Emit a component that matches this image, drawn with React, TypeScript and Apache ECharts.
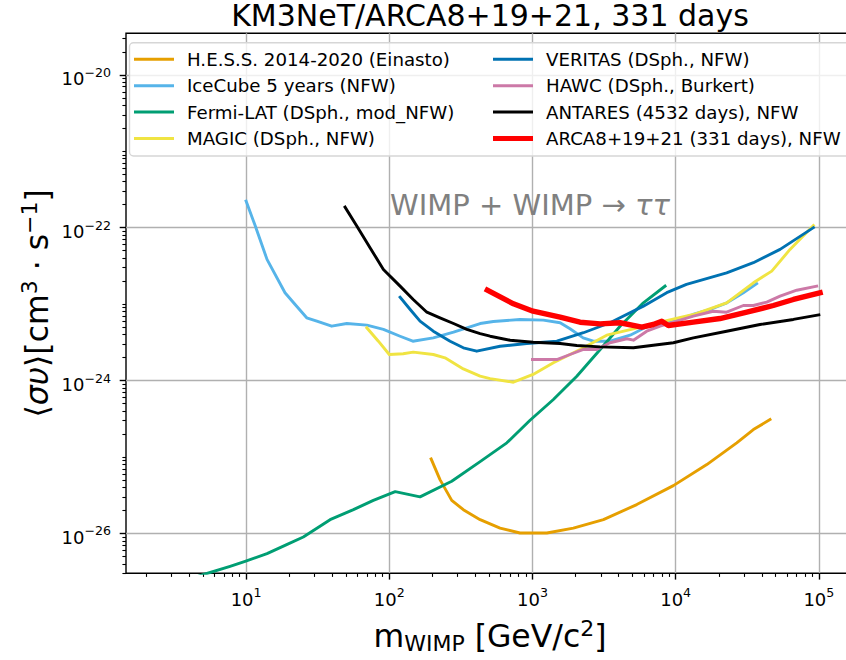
import React, { useEffect, useRef } from "react";
import * as echarts from "echarts";

const FONT = "'DejaVu Sans', 'Noto Sans', sans-serif";

const TITLE = "KM3NeT/ARCA8+19+21, 331 days";
const ANNOTATION = "WIMP + WIMP → ";
const ANNOTATION_ITALIC = "ττ";

// Axis limits: WIMP mass [GeV/c^2] and <sigma v> [cm^3 s^-1]
const X_MIN = 1.45;
const X_MAX = 1.76e5;
const Y_MIN = 3e-27;
const Y_MAX = 3.5e-20;

// Tick exponents (decades)
const X_MAJOR_EXP = [0, 1, 2, 3, 4, 5];
const X_LABEL_EXP = [1, 2, 3, 4, 5];
const Y_MAJOR_EXP = [-26, -24, -22, -20];
const Y_DECADES = [-27, -26, -25, -24, -23, -22, -21, -20];
const MINOR_MULT = [2, 3, 4, 5, 6, 7, 8, 9];

// H.E.S.S. 2014-2020 (Einasto)
const hessMass = [196, 226, 273, 329, 431, 594, 818, 1260, 1930, 3130, 5350, 9640, 16500, 26700, 34900, 45600];
const hessSigma = [9.42e-26, 5.05e-26, 2.7e-26, 2.04e-26, 1.51e-26, 1.17e-26, 1.01e-26, 1.01e-26, 1.17e-26, 1.51e-26, 2.38e-26, 4.21e-26, 7.94e-26, 1.53e-25, 2.28e-25, 3.08e-25];

// IceCube 5 years (NFW)
const iceMass = [10, 11.6, 14.0, 18.7, 22.0, 26.5, 31.2, 39.6, 50.5, 69.7, 91.0, 119, 146, 203, 281, 431, 533, 818, 1190, 1560, 1830, 2260, 2660, 3480, 4810, 6280, 9590, 13200, 17400, 22800, 29700, 36800];
const iceSigma = [2.23e-22, 1.05e-22, 3.85e-23, 1.41e-23, 9.89e-24, 6.62e-24, 5.98e-24, 5.14e-24, 5.57e-24, 5.3e-24, 4.66e-24, 3.8e-24, 3.27e-24, 3.62e-24, 4.29e-24, 5.57e-24, 5.93e-24, 6.3e-24, 6.17e-24, 5.7e-24, 4.75e-24, 3.62e-24, 3.27e-24, 3.27e-24, 3.92e-24, 5.05e-24, 5.98e-24, 7.31e-24, 8.51e-24, 1.04e-23, 1.41e-23, 1.85e-23];

// Fermi-LAT (DSph., mod_NFW)
const fermiMass = [2, 5.26, 7.73, 9.84, 14.0, 19.2, 25.1, 38.6, 56.2, 77.4, 110, 164, 273, 431, 662, 962, 1400, 2040, 2970, 4090, 5950, 8430];
const fermiSigma = [1.66e-27, 2.96e-27, 3.7e-27, 4.3e-27, 5.42e-27, 7.11e-27, 8.97e-27, 1.51e-26, 2.04e-26, 2.7e-26, 3.52e-26, 3.0e-26, 4.8e-26, 8.69e-26, 1.53e-25, 3.02e-25, 5.64e-25, 1.14e-24, 2.55e-24, 5.14e-24, 1.04e-23, 1.72e-23];

// MAGIC (DSph., NFW)
const magicMass = [69.7, 83.9, 100, 125, 147, 203, 245, 329, 431, 506, 736, 1010, 1400, 2150, 3300, 5070, 7790, 13300, 22700, 34900, 46900, 62900, 91600];
const magicSigma = [4.9e-24, 3.27e-24, 2.19e-24, 2.24e-24, 2.35e-24, 2.19e-24, 1.98e-24, 1.42e-24, 1.14e-24, 1.06e-24, 9.5e-25, 1.2e-24, 1.71e-24, 2.55e-24, 3.92e-24, 4.75e-24, 5.8e-24, 7.31e-24, 1.04e-23, 1.9e-23, 2.7e-23, 5.2e-23, 1.07e-22];

// VERITAS (DSph., NFW)
const veritasMass = [119, 140, 164, 203, 266, 329, 408, 594, 912, 1480, 2270, 3480, 5950, 8660, 11900, 22700, 34900, 53600, 91600];
const veritasSigma = [1.23e-23, 8.51e-24, 5.98e-24, 4.42e-24, 3.27e-24, 2.68e-24, 2.42e-24, 2.81e-24, 3.05e-24, 3.27e-24, 4.22e-24, 5.7e-24, 9.4e-24, 1.41e-23, 1.81e-23, 2.57e-23, 3.48e-23, 5.2e-23, 1.0e-22];

// HAWC (DSph., Burkert)
const hawcMass = [1000, 1480, 1830, 2270, 2810, 3480, 4560, 5070, 6280, 7790, 10200, 13300, 18300, 22700, 29700, 34900, 43300, 53600, 70100, 96600];
const hawcSigma = [1.88e-24, 1.88e-24, 2.19e-24, 2.55e-24, 2.55e-24, 3.12e-24, 3.52e-24, 3.37e-24, 4.42e-24, 5.14e-24, 5.98e-24, 6.95e-24, 8.07e-24, 7.84e-24, 9.59e-24, 9.59e-24, 1.06e-23, 1.27e-23, 1.52e-23, 1.72e-23];

// ANTARES (4532 days), NFW
const antaresMass = [49.1, 59.3, 73.4, 91.0, 119, 147, 183, 226, 281, 348, 431, 506, 698, 1010, 1560, 2040, 2970, 5070, 6980, 9640, 13300, 22700, 38800, 66400, 100000];
const antaresSigma = [1.86e-22, 1.05e-22, 5.47e-23, 2.84e-23, 1.72e-23, 1.15e-23, 7.84e-24, 6.62e-24, 5.57e-24, 4.66e-24, 4.12e-24, 3.8e-24, 3.37e-24, 3.17e-24, 3.05e-24, 2.87e-24, 2.76e-24, 2.68e-24, 2.9e-24, 3.12e-24, 3.62e-24, 4.42e-24, 5.41e-24, 6.3e-24, 7.24e-24];

// ARCA8+19+21 (331 days), NFW
const arcaMass = [484, 736, 1010, 1560, 2150, 2970, 4090, 5800, 6980, 8000, 8890, 13300, 20400, 31400, 48100, 66400, 102000];
const arcaSigma = [1.52e-23, 1.01e-23, 8.07e-24, 6.75e-24, 5.8e-24, 5.52e-24, 5.7e-24, 4.99e-24, 5.41e-24, 5.98e-24, 5.25e-24, 5.8e-24, 6.48e-24, 7.84e-24, 9.59e-24, 1.15e-23, 1.41e-23];

const SERIES_NAMES = [
  "H.E.S.S. 2014-2020 (Einasto)",
  "IceCube 5 years (NFW)",
  "Fermi-LAT (DSph., mod_NFW)",
  "MAGIC (DSph., NFW)",
  "VERITAS (DSph., NFW)",
  "HAWC (DSph., Burkert)",
  "ANTARES (4532 days), NFW",
  "ARCA8+19+21 (331 days), NFW",
];
const SERIES_COLORS = ["#E69F00", "#56B4E9", "#009E73", "#F0E442", "#0072B2", "#CC79A7", "#000000", "#FF0000"];
const SERIES_MASS = [hessMass, iceMass, fermiMass, magicMass, veritasMass, hawcMass, antaresMass, arcaMass];
const SERIES_SIGMA = [hessSigma, iceSigma, fermiSigma, magicSigma, veritasSigma, hawcSigma, antaresSigma, arcaSigma];

const LINE_W = 2.9;
const LINE_W_BOLD = 5.4;

const lg = Math.log10;
const xLo = lg(X_MIN);
const xHi = lg(X_MAX);
const yLo = lg(Y_MIN);
const yHi = lg(Y_MAX);

const xMinor: number[] = [];
X_MAJOR_EXP.forEach((e) => MINOR_MULT.forEach((k) => {
  const v = e + lg(k);
  if (v >= xLo && v <= xHi) xMinor.push(v);
}));
const yMinor: number[] = [];
Y_DECADES.forEach((e) => [1, ...MINOR_MULT].forEach((k) => {
  if (k === 1 && Y_MAJOR_EXP.includes(e)) return;
  const v = e + lg(k);
  if (v >= yLo && v <= yHi) yMinor.push(v);
}));

const tok = (fontSize: number, lineHeight: number, padTop: number, extra: Record<string, unknown> = {}) => ({
  fontSize,
  lineHeight,
  padding: [padTop, 0, 0, 0],
  verticalAlign: "top",
  fontFamily: FONT,
  color: "#000",
  ...extra,
});

const tickRich = { b: tok(18, 18, 4), s: tok(12.6, 13, 0) };
const nameRich = {
  b: tok(31.5, 32, 4),
  i: tok(31.5, 32, 4, { fontStyle: "italic" }),
  s: tok(22, 22, 1.6),
  u: tok(22, 22, 16.8),
};

const fmtExp = (v: number) => {
  const e = Math.round(v);
  return `{b|10}{s|${e < 0 ? "\u2212" + Math.abs(e) : e}}`;
};

const majorTick = { show: true, length: 6.3, lineStyle: { color: "#000", width: 1.4 } };
const minorTick = { show: true, length: 3.6, lineStyle: { color: "#000", width: 1.1 } };
const gridLine = { show: true, lineStyle: { color: "#b0b0b0", width: 1.4 } };

function buildOption() {
  const series = SERIES_NAMES.map((name, i) => ({
    name,
    type: "line",
    xAxisIndex: 0,
    yAxisIndex: 0,
    data: SERIES_MASS[i].map((m, j) => [lg(m), lg(SERIES_SIGMA[i][j])]),
    symbol: "none",
    showSymbol: false,
    clip: true,
    silent: true,
    color: SERIES_COLORS[i],
    itemStyle: { color: SERIES_COLORS[i] },
    lineStyle: {
      color: SERIES_COLORS[i],
      width: i === SERIES_NAMES.length - 1 ? LINE_W_BOLD : LINE_W,
      join: "round",
      cap: "square",
    },
    emphasis: { disabled: true },
  }));

  const legendItem = (name: string) => ({
    name,
    icon: name === SERIES_NAMES[7] ? "path://M0,0H40V5H0Z" : "path://M0,0H40V3H0Z",
  });
  const legendBase = {
    orient: "vertical",
    top: 50.3,
    padding: 0,
    itemWidth: 40,
    itemHeight: 6,
    itemGap: 8.4,
    selectedMode: false,
    itemStyle: { borderWidth: 0 },
    textStyle: { fontSize: 18.2, lineHeight: 18, fontFamily: FONT, color: "#000", padding: [0, 0, 0, 8] },
  };

  const xBase = { type: "value", min: xLo, max: xHi, gridIndex: 0, position: "bottom", axisLine: { show: false } };
  const yBase = { type: "value", min: yLo, max: yHi, gridIndex: 0, position: "left", axisLine: { show: false } };

  return {
    animation: false,
    backgroundColor: "#fff",
    textStyle: { fontFamily: FONT },
    title: {
      text: TITLE,
      left: 490,
      top: 0,
      textAlign: "center",
      padding: 0,
      textStyle: { fontSize: 30, fontWeight: "normal", fontFamily: FONT, color: "#000" },
    },
    grid: {
      left: 126,
      top: 33.3,
      right: -8,
      bottom: 86.7,
      show: true,
      borderColor: "#000",
      borderWidth: 1.4,
      backgroundColor: "transparent",
      containLabel: false,
      outerBoundsMode: "none",
    },
    legend: [
      { ...legendBase, left: 134, data: SERIES_NAMES.slice(0, 4).map(legendItem) },
      { ...legendBase, left: 493, data: SERIES_NAMES.slice(4).map(legendItem) },
    ],
    xAxis: [
      {
        ...xBase,
        axisTick: { ...majorTick, customValues: X_MAJOR_EXP },
        axisLabel: { show: true, customValues: X_LABEL_EXP, margin: 13, formatter: fmtExp, rich: tickRich, color: "#000" },
        splitLine: gridLine,
        name: "{b|m}{u|WIMP}{b| [GeV/c}{s|2}{b|]}",
        nameLocation: "middle",
        nameGap: 42.5,
        nameMoveOverlap: false,
        nameTextStyle: { fontFamily: FONT, color: "#000", rich: nameRich },
      },
      {
        ...xBase,
        axisTick: { ...minorTick, customValues: xMinor },
        axisLabel: { show: false },
        splitLine: { show: false },
      },
    ],
    yAxis: [
      {
        ...yBase,
        axisTick: { ...majorTick, customValues: Y_MAJOR_EXP },
        axisLabel: { show: true, customValues: Y_MAJOR_EXP, margin: 15, formatter: fmtExp, rich: tickRich, color: "#000" },
        splitLine: gridLine,
        name: "{b|\u27e8}{i|\u03c3\u03c5}{b|\u27e9[cm}{s|3}{b| \u00b7 s}{s|\u22121}{b|]}",
        nameLocation: "middle",
        nameRotate: 90,
        nameGap: 77,
        nameMoveOverlap: false,
        nameTextStyle: { fontFamily: FONT, color: "#000", rich: nameRich },
      },
      {
        ...yBase,
        axisTick: { ...minorTick, customValues: yMinor },
        axisLabel: { show: false },
        splitLine: { show: false },
      },
    ],
    graphic: {
      elements: [
        {
          type: "rect",
          z: 3,
          silent: true,
          shape: { x: 129.5, y: 42.7, width: 740, height: 113.3, r: 4 },
          style: { fill: "rgba(255,255,255,0.8)", stroke: "#d6d6d6", lineWidth: 1.4 },
        },
        {
          type: "text",
          z: 3,
          silent: true,
          x: 390,
          y: 204.6,
          style: {
            text: `{n|${ANNOTATION}}{t|${ANNOTATION_ITALIC}}`,
            align: "left",
            verticalAlign: "middle",
            rich: {
              n: { fontSize: 29, fontFamily: FONT, fill: "#808080" },
              t: { fontSize: 29, fontFamily: FONT, fontStyle: "italic", fill: "#808080" },
            },
          },
        },
      ],
    },
    series,
  };
}

export default function App() {
  const ref = useRef<HTMLDivElement>(null);
  useEffect(() => {
    if (!ref.current) return;
    const chart = echarts.init(ref.current, null, { renderer: "svg" });
    chart.setOption(buildOption() as any);
    return () => chart.dispose();
  }, []);
  return (
    <div
      ref={ref}
      style={{ position: "fixed", left: 0, top: 0, width: 846, height: 660, background: "#fff", overflow: "hidden" }}
    />
  );
}
